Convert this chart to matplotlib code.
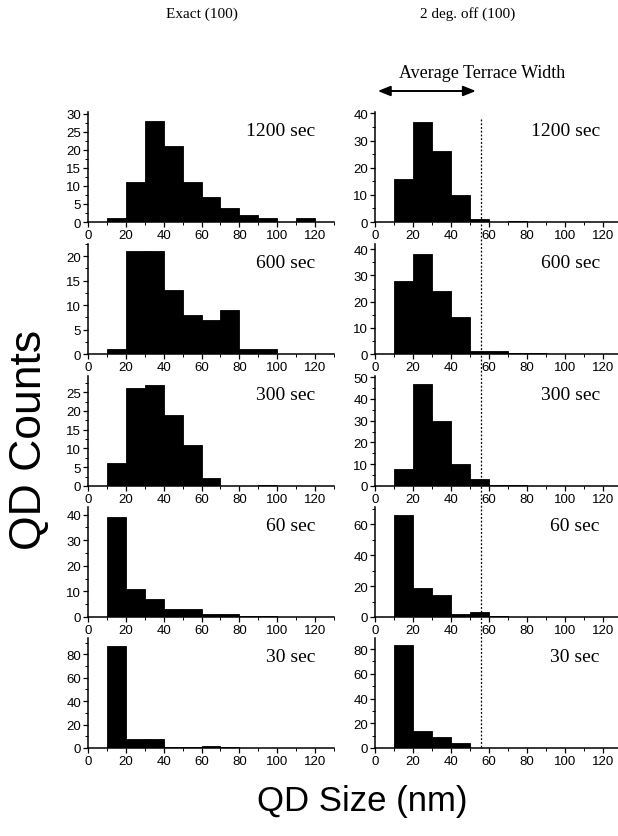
import matplotlib
matplotlib.use("Agg")
import matplotlib.pyplot as plt
from matplotlib.ticker import MultipleLocator, AutoMinorLocator
from matplotlib.lines import Line2D
import matplotlib.transforms as mtransforms

# ---- data (counts per 10 nm bin) ----
bin_edges = [0, 10, 20, 30, 40, 50, 60, 70, 80, 90, 100, 110, 120]
times = ["1200 sec", "600 sec", "300 sec", "60 sec", "30 sec"]

exact_1200 = [0, 1, 11, 28, 21, 11, 7, 4, 2, 1, 0, 1, 0]
exact_600 = [0, 1, 21, 21, 13, 8, 7, 9, 1, 1, 0, 0, 0]
exact_300 = [0, 6, 26, 27, 19, 11, 2, 0, 0, 0.2, 0, 0, 0]
exact_60 = [0, 39, 11, 7, 3, 3, 1, 1, 0.3, 0.3, 0, 0, 0]
exact_30 = [0, 87, 8, 8, 0.5, 1, 2, 0.5, 0, 0, 0, 0, 0]

off_1200 = [0, 16, 37, 26, 10, 1, 0, 0.3, 0, 0, 0, 0, 0]
off_600 = [0, 28, 38, 24, 14, 1, 1, 0.3, 0.3, 0, 0, 0, 0]
off_300 = [0, 8, 47, 30, 10, 3, 0.5, 0.3, 0, 0, 0, 0, 0]
off_60 = [0, 66, 19, 14, 2, 3, 0.5, 0, 0, 0, 0, 0, 0]
off_30 = [0, 83, 14, 9, 4, 0, 0, 0, 0, 0, 0, 0, 0]

exact_series = [exact_1200, exact_600, exact_300, exact_60, exact_30]
off_series = [off_1200, off_600, off_300, off_60, off_30]

exact_ylims = [30.5, 22.5, 29.3, 43, 94]
exact_ymajor = [5, 5, 5, 10, 20]
off_ylims = [40.5, 42, 50.5, 71, 89]
off_ymajor = [10, 10, 10, 20, 20]

terrace_width = 55.6
column_titles = ["Exact (100)", "2 deg. off (100)"]

# ---- layout ----
W, H = 618, 837
fig = plt.figure(figsize=(W / 100, H / 100), dpi=100)

row_bottoms_px = [223, 355, 487, 618, 749]
row_h_px = 110
col_x_px = [88, 375]
col_w_px = [246, 243]
col_xmax = [130, 128]

sans = ["Liberation Sans", "DejaVu Sans"]
serif = ["Liberation Serif", "DejaVu Serif"]

axes = {}
for c, (series_list, ylims, ymaj) in enumerate(
        [(exact_series, exact_ylims, exact_ymajor), (off_series, off_ylims, off_ymajor)]):
    for r in range(5):
        b = row_bottoms_px[r]
        ax = fig.add_axes([col_x_px[c] / W, (H - b) / H, col_w_px[c] / W, row_h_px / H])
        ax.bar(bin_edges, series_list[r], width=10, align="edge",
               color="black", edgecolor="black", linewidth=0.6)
        ax.set_xlim(0, col_xmax[c])
        ax.set_ylim(0, ylims[r])
        ax.xaxis.set_major_locator(MultipleLocator(20))
        ax.xaxis.set_minor_locator(MultipleLocator(10))
        ax.yaxis.set_major_locator(MultipleLocator(ymaj[r]))
        ax.yaxis.set_minor_locator(AutoMinorLocator(2))
        for s in ["top", "right"]:
            ax.spines[s].set_visible(False)
        for s in ["left", "bottom"]:
            ax.spines[s].set_linewidth(1.1)
        ax.tick_params(which="major", direction="out", length=3.5, width=0.9,
                       labelsize=9.5, pad=1.5)
        ax.tick_params(which="minor", direction="out", length=2, width=0.7)
        for lab in ax.get_xticklabels() + ax.get_yticklabels():
            lab.set_family(sans)
        ax.text(0.925, 0.83, times[r], transform=ax.transAxes, ha="right",
                va="center", fontsize=14, family=serif)
        axes[(c, r)] = ax

# dotted terrace-width line through right column
ax_tr = axes[(1, 0)]
trans = mtransforms.blended_transform_factory(ax_tr.transData, fig.transFigure)
fig.add_artist(Line2D([terrace_width, terrace_width], [(H - 120) / H, (H - 750) / H],
                      transform=trans, color="black", linestyle=(0, (1.5, 1.5)),
                      linewidth=0.9))

# arrow + label
fig.add_artist(matplotlib.patches.FancyArrowPatch(
    (0, (H - 92) / H), (terrace_width - 1, (H - 92) / H), transform=trans,
    arrowstyle="<|-|>,head_length=5,head_width=2", color="black", linewidth=1.4,
    mutation_scale=1.5))
fig.text(482 / W, (H - 73) / H, "Average Terrace Width", ha="center", va="center",
         fontsize=13, family=serif)

# column titles
fig.text(202 / W, (H - 14) / H, column_titles[0], ha="center", va="center",
         fontsize=11, family=serif)
fig.text(468 / W, (H - 14) / H, column_titles[1], ha="center", va="center",
         fontsize=11, family=serif)

# axis titles
fig.text(30 / W, (H - 440) / H, "QD Counts", rotation=90, ha="center", va="center",
         fontsize=32, family=sans)
fig.text(362 / W, (H - 802) / H, "QD Size (nm)", ha="center", va="center",
         fontsize=25, family=sans)

fig.savefig("out.png", dpi=100)
